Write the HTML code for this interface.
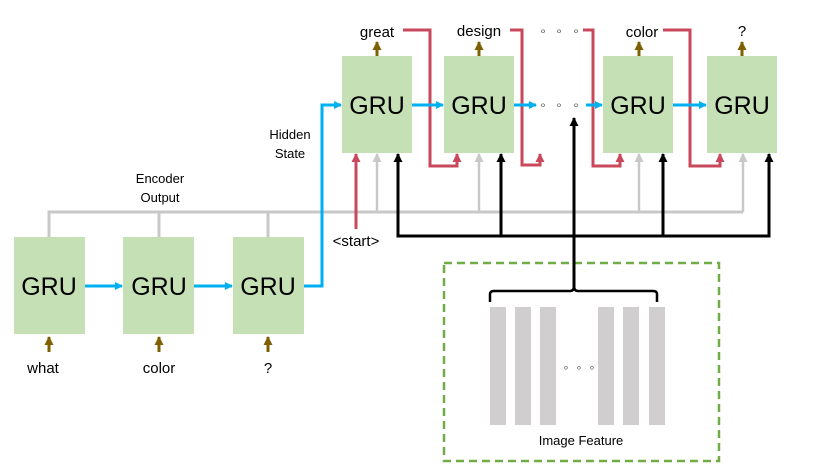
<!DOCTYPE html>
<html><head><meta charset="utf-8"><style>body{margin:0;background:#fff}svg{display:block}text{font-family:"Liberation Sans",sans-serif}</style></head><body>
<svg width="830" height="467" viewBox="0 0 830 467" xmlns="http://www.w3.org/2000/svg">
<defs>
<marker id="ab" markerWidth="8" markerHeight="8" refX="7" refY="4" orient="auto" markerUnits="userSpaceOnUse"><path d="M0,0 L8,4 L0,8z" fill="#00b0f0"/></marker>
<marker id="ar" markerWidth="9" markerHeight="9" refX="8" refY="4.5" orient="auto" markerUnits="userSpaceOnUse"><path d="M0,0 L9,4.5 L0,9z" fill="#c9485b"/></marker>
<marker id="ag" markerWidth="9" markerHeight="9" refX="8" refY="4.5" orient="auto" markerUnits="userSpaceOnUse"><path d="M0,0 L9,4.5 L0,9z" fill="#c8c8c8"/></marker>
<marker id="ak" markerWidth="9" markerHeight="9" refX="8" refY="4.5" orient="auto" markerUnits="userSpaceOnUse"><path d="M0,0 L9,4.5 L0,9z" fill="#000"/></marker>
<marker id="aks" markerWidth="9" markerHeight="9" refX="1" refY="4.5" orient="auto" markerUnits="userSpaceOnUse"><path d="M9,0 L0,4.5 L9,9z" fill="#000"/></marker>
<marker id="an" markerWidth="9" markerHeight="9" refX="8" refY="4.5" orient="auto" markerUnits="userSpaceOnUse"><path d="M0,0 L9,4.5 L0,9z" fill="#7f6000"/></marker>
</defs>
<g fill="#c5e0b4">
<rect x="14" y="237" width="71" height="97"/><rect x="123" y="237" width="71" height="97"/><rect x="233" y="237" width="71" height="97"/>
<rect x="342" y="56" width="70" height="97"/><rect x="444" y="56" width="70" height="97"/><rect x="603" y="56" width="70" height="97"/><rect x="707" y="56" width="70" height="97"/>
</g>
<g stroke="#c8c8c8" stroke-width="3" fill="none">
<path d="M49,237V212H743"/><path d="M159,237V212"/><path d="M268,237V212"/>
</g>
<g stroke="#c8c8c8" stroke-width="2.5" marker-end="url(#ag)">
<path d="M377,212V154"/><path d="M479,212V154"/><path d="M639,212V154"/><path d="M743,212V154"/>
</g>
<path d="M398,154V236H769V154" stroke="#000" stroke-width="3" fill="none" marker-start="url(#aks)" marker-end="url(#ak)"/>
<path d="M501,236V154" stroke="#000" stroke-width="3" marker-end="url(#ak)"/>
<path d="M663,236V154" stroke="#000" stroke-width="3" marker-end="url(#ak)"/>
<path d="M574,290V118" stroke="#000" stroke-width="3" marker-end="url(#ak)"/>
<g stroke="#c9485b" stroke-width="3" fill="none" marker-end="url(#ar)">
<path d="M356,229V154"/>
<path d="M403,30H430V166H457V154"/>
<path d="M510,30H522V165H540V154"/>
<path d="M583,30H593V166H620V154"/>
<path d="M663,30H690V166H720V154"/>
</g>
<g font-size="25" text-anchor="middle" fill="#000">
<text x="49" y="295">GRU</text><text x="159" y="295">GRU</text><text x="268" y="295">GRU</text>
<text x="377" y="114">GRU</text><text x="479" y="114">GRU</text><text x="638" y="114">GRU</text><text x="742" y="114">GRU</text>
</g>
<g stroke="#00b0f0" stroke-width="3" fill="none" marker-end="url(#ab)">
<path d="M85,286H122"/><path d="M194,286H232"/><path d="M304,286H322V105H341"/>
<path d="M412,105H443"/><path d="M514,105H536"/><path d="M586,105H602"/><path d="M673,105H706"/>
</g>
<g fill="#555" font-size="12" text-anchor="middle"><text x="543" y="109">∘</text><text x="559" y="109">∘</text><text x="576" y="109">∘</text><text x="543" y="35">∘</text><text x="559" y="35">∘</text><text x="576" y="35">∘</text></g>
<g stroke="#7f6000" stroke-width="3" marker-end="url(#an)">
<path d="M49,352V337"/><path d="M159,352V337"/><path d="M268,352V337"/>
<path d="M377,56V42"/><path d="M479,56V42"/><path d="M639,56V42"/><path d="M742,56V42"/>
</g>
<g font-size="15" text-anchor="middle" fill="#000">
<text x="43" y="373">what</text><text x="159" y="373">color</text><text x="268" y="373">?</text>
<text x="377" y="37">great</text><text x="479" y="36">design</text><text x="642" y="37">color</text><text x="742" y="36">?</text>
<text x="356" y="246">&lt;start&gt;</text>
</g>
<g font-size="13" text-anchor="middle" fill="#000">
<text x="160" y="183">Encoder</text><text x="160" y="202">Output</text>
<text x="290" y="139">Hidden</text><text x="290" y="158">State</text>
<text x="581" y="445">Image Feature</text>
</g>
<rect x="444" y="263" width="275" height="198" fill="none" stroke="#70ad47" stroke-width="2.5" stroke-dasharray="8,5"/>
<path d="M490,302V294Q490,291 494,291H570Q574,291 574,286Q574,291 578,291H653Q657,291 657,294V302" stroke="#000" stroke-width="2.5" fill="none"/>
<path d="M574,236V287" stroke="#000" stroke-width="3"/>
<g fill="#d0cece">
<rect x="490" y="307" width="16" height="118"/><rect x="515" y="307" width="16" height="118"/><rect x="540" y="307" width="16" height="118"/>
<rect x="598" y="307" width="16" height="118"/><rect x="623" y="307" width="16" height="118"/><rect x="649" y="307" width="16" height="118"/>
</g>
<g fill="#555" font-size="11" text-anchor="middle"><text x="566" y="371">∘</text><text x="579" y="371">∘</text><text x="592" y="371">∘</text></g>
</svg>
</body></html>
